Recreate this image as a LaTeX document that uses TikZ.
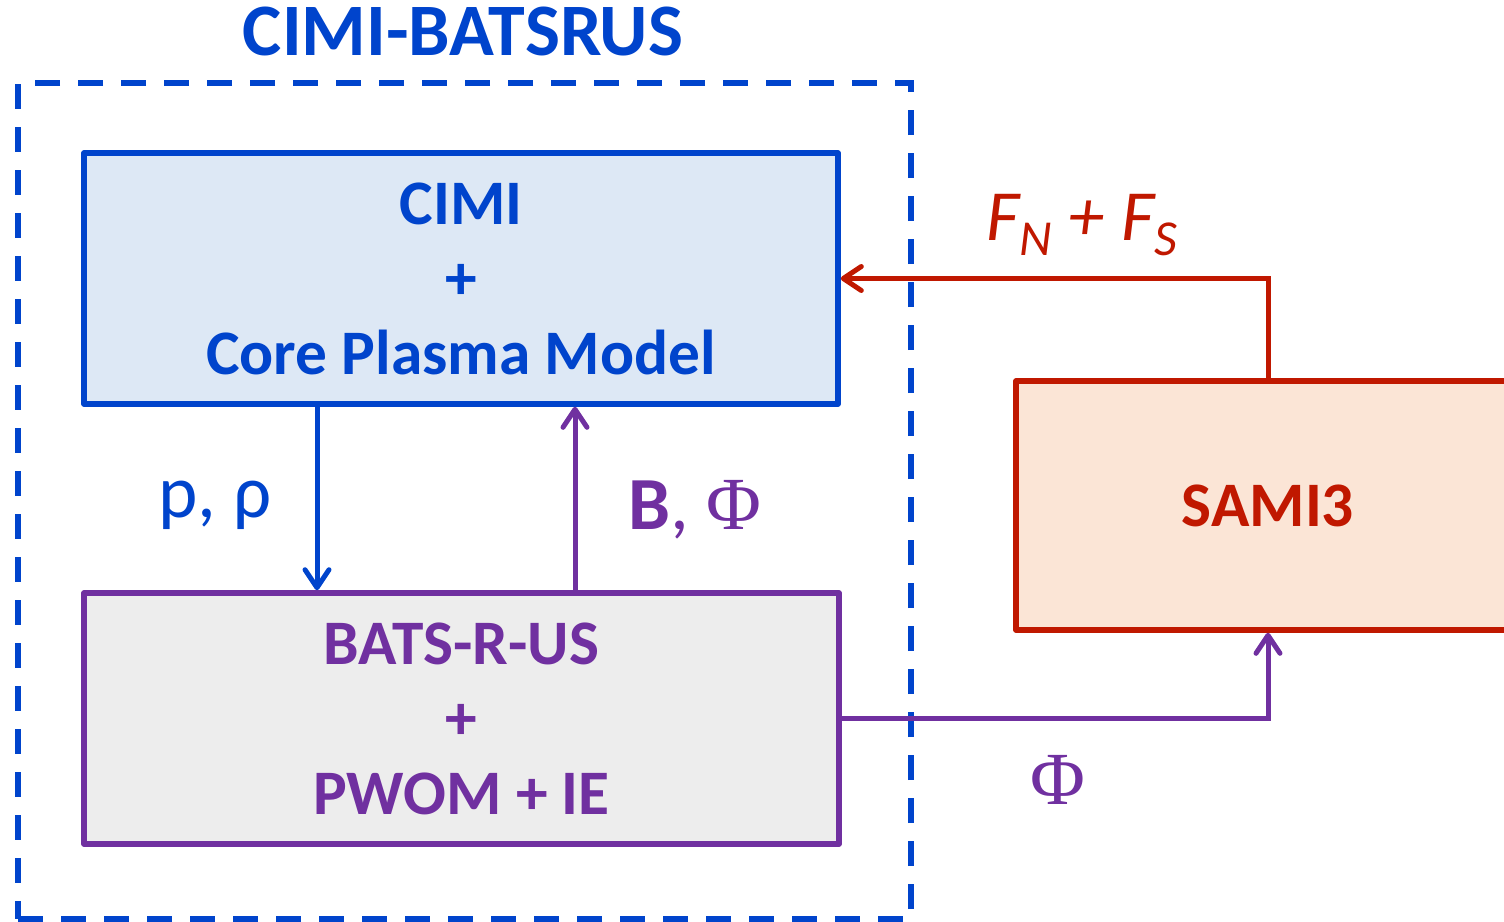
\documentclass[tikz,border=0pt]{standalone}
\usepackage{fontspec}
\setmainfont{Carlito}
\newfontfamily\phifont{Liberation Serif}
\usetikzlibrary{arrows.meta}
\definecolor{cblue}{HTML}{0044CC}
\definecolor{cpurple}{HTML}{7030A0}
\definecolor{cred}{HTML}{C01800}
\definecolor{fblue}{HTML}{DDE8F5}
\definecolor{fgray}{HTML}{EDEDED}
\definecolor{fpeach}{HTML}{FBE5D6}
\begin{document}
\begin{tikzpicture}[x=0.5pt,y=-0.5pt,
  box/.style={draw,line width=2.8pt,rectangle,inner sep=0pt,align=center,
    font=\fontsize{31.7}{37.5}\selectfont\bfseries,line join=round},
  conn/.style={line width=2.5pt,line cap=round,-{Straight Barb[length=9pt,width=12pt,round]}},
  lbl/.style={inner sep=0pt,font=\fontsize{37.5}{42}\selectfont}]
\useasboundingbox (0,0) rectangle (1504,921);
\clip (0,0) rectangle (1504,921);
% frame
\node[draw=cblue,line width=3pt,dash pattern=on 12.5pt off 9pt,rectangle,inner sep=0pt,
  minimum width=446.5pt,minimum height=418pt] (frame) at (464.5,501) {};
\node[inner sep=0pt,text=cblue,font=\fontsize{37}{44}\selectfont\bfseries] (title) at (463,32) {CIMI-BATSRUS};
% boxes
\node[box,draw=cblue,fill=fblue,text=cblue,minimum width=377pt,minimum height=125.5pt] (cimi) at (461,278.5)
  {CIMI\\+\\Core Plasma Model};
\node[box,draw=cpurple,fill=fgray,text=cpurple,minimum width=377.5pt,minimum height=125.5pt] (bats) at (461.5,718.5)
  {BATS-R-US\\+\\PWOM + IE};
\node[box,draw=cred,fill=fpeach,text=cred,minimum width=252pt,minimum height=124.5pt] (sami) at (1268,505.5)
  {SAMI3};
% connectors
\coordinate (xa) at (317,0);
\coordinate (xb) at (575,0);
\draw[conn,cblue] (cimi.south -| xa) -- (bats.north -| xa);
\draw[conn,cpurple] (bats.north -| xb) -- (cimi.south -| xb);
\draw[conn,cred] (sami.north) |- (cimi.east);
\draw[conn,cpurple] (bats.east) -| (sami.south);
% labels
\node[lbl,text=cblue] (lp) at (215,505) {p, ρ};
\node[lbl,text=cpurple] (lb) at (695,510) {\textbf{B}, {\phifont Φ}};
\node[lbl,text=cpurple] (lphi) at (1058,780) {\phifont Φ};
\node[lbl,text=cred,font=\fontsize{36}{42}\selectfont\itshape] (lf) at (1082,225) {F\textsubscript{N} + F\textsubscript{S}};
\end{tikzpicture}
\end{document}
